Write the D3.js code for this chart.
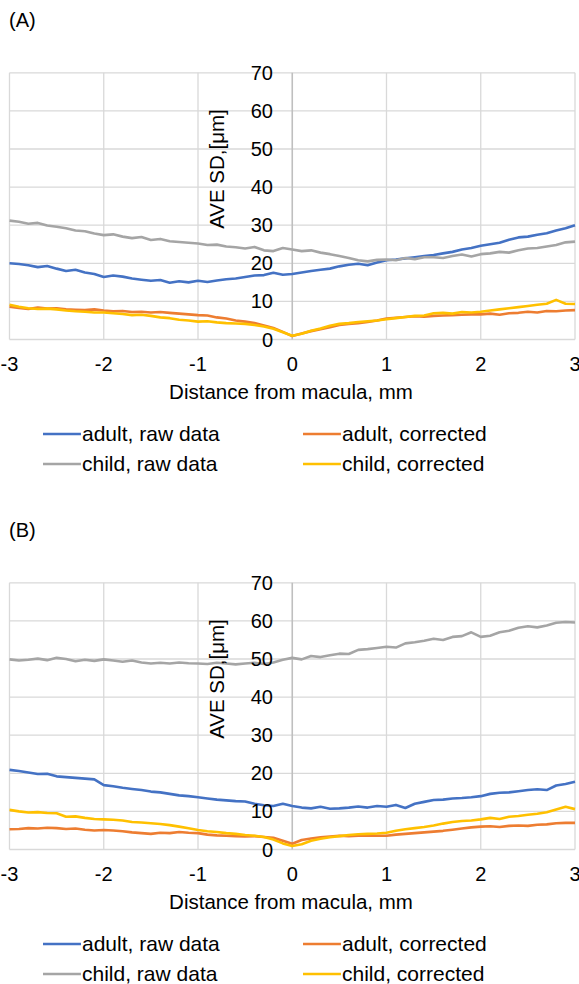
<!DOCTYPE html>
<html>
<head>
<meta charset="utf-8">
<script src="https://cdn.jsdelivr.net/npm/d3@7"></script>
<style>
  body { margin: 0; background: #fff; }
  svg { display: block; font-family: "Liberation Sans", Arial, sans-serif; }
  .tick-label { font-size: 20px; fill: #000; }
  .axis-title { font-size: 20.5px; fill: #000; }
  .legend-label { font-size: 21px; fill: #000; }
  .panel-label { font-size: 20px; fill: #000; }
</style>
</head>
<body>
<div id="chart"></div>
<script>

// distance from macula, mm
var distance = [-3.0,-2.9,-2.8,-2.7,-2.6,-2.5,-2.4,-2.3,-2.2,-2.1,-2.0,-1.9,-1.8,-1.7,-1.6,-1.5,-1.4,-1.3,-1.2,-1.1,
  -1.0,-0.9,-0.8,-0.7,-0.6,-0.5,-0.4,-0.3,-0.2,-0.1,0.0,0.1,0.2,0.3,0.4,0.5,0.6,0.7,0.8,0.9,
  1.0,1.1,1.2,1.3,1.4,1.5,1.6,1.7,1.8,1.9,2.0,2.1,2.2,2.3,2.4,2.5,2.6,2.7,2.8,2.9,3.0];

var seriesNames = ["adult, raw data", "adult, corrected", "child, raw data", "child, corrected"];
var seriesColors = ["#4472C4", "#ED7D31", "#A5A5A5", "#FFC000"];

var xTicks = [-3, -2, -1, 0, 1, 2, 3];
var yTicks = [0, 10, 20, 30, 40, 50, 60, 70];

// Panel A
var adultRawA = [20.0,19.8,19.5,19.0,19.3,18.6,18.0,18.3,17.6,17.2,16.4,16.8,16.5,16.0,15.7,15.4,15.6,14.9,15.3,15.0,
  15.4,15.1,15.5,15.8,16.0,16.4,16.8,16.9,17.5,17.0,17.2,17.6,18.0,18.3,18.6,19.2,19.6,19.9,19.5,20.2,
  20.8,21.0,21.3,21.6,21.9,22.2,22.6,23.0,23.6,24.0,24.6,25.0,25.4,26.2,26.8,27.0,27.5,27.9,28.6,29.2,30.0];
var adultCorrA = [8.6,8.3,8.0,8.4,8.1,8.2,7.9,7.8,7.7,7.9,7.6,7.4,7.5,7.2,7.3,7.1,7.2,7.0,6.8,6.6,
  6.4,6.3,5.8,5.5,5.0,4.7,4.3,3.7,3.0,2.0,0.9,1.6,2.2,2.7,3.2,3.8,4.1,4.3,4.6,5.0,
  5.5,5.7,5.9,6.1,6.0,6.2,6.3,6.4,6.5,6.6,6.6,6.8,6.5,6.9,7.0,7.3,7.1,7.5,7.4,7.6,7.7];
var childRawA = [31.2,30.9,30.4,30.6,29.9,29.6,29.2,28.6,28.4,27.8,27.4,27.6,27.0,26.6,26.9,26.1,26.4,25.8,25.6,25.4,
  25.2,24.8,24.9,24.4,24.2,23.9,24.3,23.4,23.2,24.0,23.6,23.2,23.4,22.8,22.4,21.9,21.4,20.8,20.5,20.9,
  21.0,20.8,21.4,21.1,21.6,21.6,21.4,21.9,22.3,21.8,22.4,22.6,23.0,22.8,23.4,23.9,24.0,24.4,24.8,25.5,25.7];
var childCorrA = [9.1,8.6,8.2,8.0,8.1,7.9,7.6,7.4,7.3,7.1,7.1,6.9,6.7,6.4,6.5,6.2,5.8,5.6,5.2,5.0,
  4.7,4.8,4.5,4.3,4.2,4.1,3.8,3.4,2.8,1.9,1.0,1.5,2.3,2.9,3.6,4.1,4.3,4.6,4.8,5.0,
  5.3,5.6,5.9,6.2,6.3,6.9,7.0,6.8,7.2,7.1,7.3,7.6,7.9,8.2,8.5,8.8,9.1,9.4,10.4,9.4,9.3];

// Panel B
var adultRawB = [20.9,20.6,20.2,19.8,19.9,19.2,19.0,18.8,18.6,18.4,16.9,16.6,16.2,15.9,15.6,15.2,15.0,14.6,14.2,14.0,
  13.7,13.4,13.1,12.9,12.7,12.6,12.0,11.6,11.4,12.0,11.4,11.0,10.8,11.2,10.7,10.8,11.0,11.3,11.0,11.4,
  11.2,11.7,10.9,12.0,12.5,13.0,13.1,13.4,13.5,13.7,14.0,14.6,14.9,15.0,15.3,15.6,15.8,15.6,16.8,17.2,17.8];
var adultCorrB = [5.3,5.4,5.6,5.5,5.7,5.6,5.4,5.5,5.2,5.0,5.1,5.0,4.8,4.5,4.3,4.1,4.4,4.3,4.6,4.4,
  4.3,3.9,3.7,3.6,3.5,3.4,3.5,3.3,3.1,2.3,1.5,2.5,2.9,3.2,3.4,3.6,3.5,3.6,3.7,3.6,
  3.6,3.9,4.1,4.3,4.5,4.7,4.9,5.2,5.5,5.8,6.0,6.1,5.9,6.2,6.3,6.2,6.5,6.6,6.9,7.0,7.0];
var childRawB = [49.9,49.6,49.8,50.1,49.7,50.3,50.0,49.4,49.8,49.5,49.9,49.6,49.3,49.6,49.1,48.8,49.0,48.8,49.1,48.9,
  48.8,48.7,49.0,48.8,48.6,48.8,49.0,48.7,49.1,49.8,50.3,49.9,50.8,50.5,51.0,51.4,51.3,52.4,52.6,52.9,
  53.2,53.0,54.1,54.4,54.8,55.3,55.0,55.8,56.0,57.0,55.8,56.1,57.0,57.4,58.2,58.6,58.3,58.8,59.5,59.7,59.6];
var childCorrB = [10.4,10.0,9.7,9.8,9.6,9.5,8.6,8.7,8.3,8.0,7.9,7.8,7.6,7.2,7.1,6.9,6.7,6.4,6.0,5.6,
  5.1,4.8,4.6,4.3,4.1,3.8,3.6,3.3,2.6,1.6,0.9,1.4,2.3,2.8,3.2,3.5,3.8,4.0,4.1,4.2,
  4.4,4.9,5.3,5.6,5.9,6.3,6.8,7.2,7.5,7.6,7.9,8.3,8.0,8.6,8.8,9.1,9.4,9.8,10.5,11.2,10.6];

var panels = [
  { label: "(A)", top: 0, series: [adultRawA, adultCorrA, childRawA, childCorrA] },
  { label: "(B)", top: 510, series: [adultRawB, adultCorrB, childRawB, childCorrB] }
];

var width = 579, height = 984;

var svg = d3.select("#chart").append("svg")
  .attr("width", width)
  .attr("height", height);

// plot area inside each panel
var plot = { left: 9.5, right: 575, top: 72.8, bottom: 339.5 };

var x = d3.scaleLinear().domain([-3, 3]).range([plot.left, plot.right]);
var y = d3.scaleLinear().domain([0, 70]).range([plot.bottom, plot.top]);

var line = d3.line()
  .x(function(d) { return x(d.x); })
  .y(function(d) { return y(d.y); });

panels.forEach(function(p) {
  var g = svg.append("g").attr("transform", "translate(0," + p.top + ")");

  g.append("text")
    .attr("class", "panel-label")
    .attr("x", 9)
    .attr("y", 27)
    .text(p.label);

  // gridlines
  g.selectAll(".hgrid")
    .data(yTicks)
    .enter().append("line")
    .attr("x1", plot.left).attr("x2", plot.right)
    .attr("y1", function(d) { return y(d); })
    .attr("y2", function(d) { return y(d); })
    .attr("stroke", "#d9d9d9")
    .attr("stroke-width", 1.3);

  g.selectAll(".vgrid")
    .data(xTicks.filter(function(d) { return d !== 0; }))
    .enter().append("line")
    .attr("x1", function(d) { return x(d); })
    .attr("x2", function(d) { return x(d); })
    .attr("y1", plot.top).attr("y2", plot.bottom)
    .attr("stroke", "#d9d9d9")
    .attr("stroke-width", 1.3);

  // vertical axis at x = 0
  g.append("line")
    .attr("x1", x(0)).attr("x2", x(0))
    .attr("y1", plot.top).attr("y2", plot.bottom)
    .attr("stroke", "#bfbfbf")
    .attr("stroke-width", 1.6);

  // series lines
  p.series.forEach(function(vals, i) {
    var pts = distance.map(function(d, j) { return { x: d, y: vals[j] }; });
    g.append("path")
      .datum(pts)
      .attr("fill", "none")
      .attr("stroke", seriesColors[i])
      .attr("stroke-width", 2.6)
      .attr("stroke-linejoin", "round")
      .attr("d", line);
  });

  // y tick labels
  g.selectAll(".ylab")
    .data(yTicks)
    .enter().append("text")
    .attr("class", "tick-label")
    .attr("x", 273)
    .attr("y", function(d) { return y(d); })
    .attr("dy", "0.35em")
    .attr("text-anchor", "end")
    .text(function(d) { return d; });

  // x tick labels
  g.selectAll(".xlab")
    .data(xTicks)
    .enter().append("text")
    .attr("class", "tick-label")
    .attr("x", function(d) { return x(d); })
    .attr("y", 364)
    .attr("dy", "0.35em")
    .attr("text-anchor", "middle")
    .text(function(d) { return d; });

  // axis titles
  g.append("text")
    .attr("class", "axis-title")
    .attr("x", 291)
    .attr("y", 392)
    .attr("dy", "0.35em")
    .attr("text-anchor", "middle")
    .text("Distance from macula, mm");

  g.append("text")
    .attr("class", "axis-title")
    .attr("transform", "translate(217,169) rotate(-90)")
    .attr("dy", "0.35em")
    .attr("text-anchor", "middle")
    .text("AVE SD,[μm]");

  // legend
  var legendPos = [[43, 434], [303, 434], [43, 464], [303, 464]];
  seriesNames.forEach(function(name, i) {
    var lg = g.append("g")
      .attr("transform", "translate(" + legendPos[i][0] + "," + legendPos[i][1] + ")");
    lg.append("line")
      .attr("x1", 0).attr("x2", 38)
      .attr("y1", 0).attr("y2", 0)
      .attr("stroke", seriesColors[i])
      .attr("stroke-width", 2.6);
    lg.append("text")
      .attr("class", "legend-label")
      .attr("x", 39)
      .attr("y", 0)
      .attr("dy", "0.35em")
      .text(name);
  });
});

</script>
</body>
</html>
